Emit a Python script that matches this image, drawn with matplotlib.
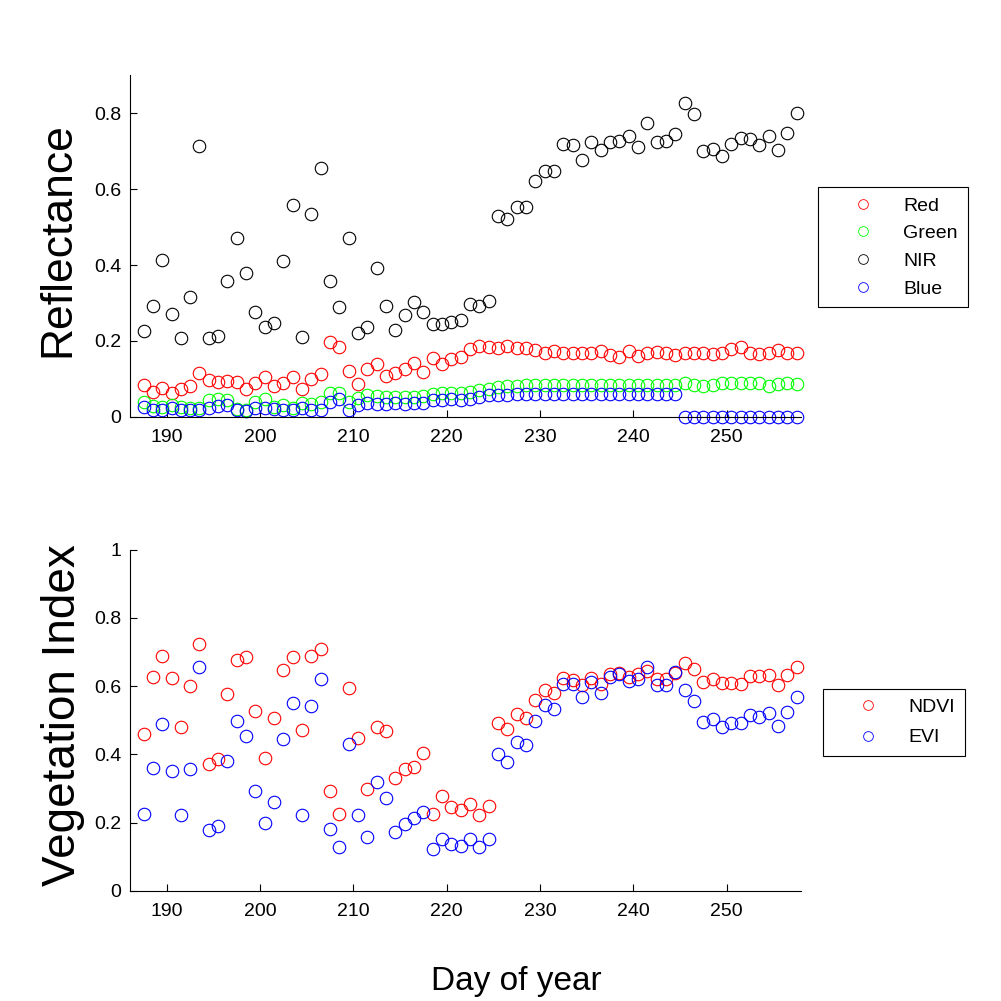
import numpy as np
import matplotlib
matplotlib.use("Agg")
import matplotlib.pyplot as plt

plt.rcParams['font.family'] = ['Liberation Sans', 'DejaVu Sans']

# day of year (half-day centred acquisitions)
days = np.arange(187.5, 258.0, 1.0)

# reflectance bands
red = [0.084, 0.066, 0.075, 0.063, 0.072, 0.082, 0.114, 0.097, 0.092, 0.095,
       0.091, 0.072, 0.088, 0.105, 0.081, 0.090, 0.106, 0.074, 0.099, 0.113,
       0.196, 0.183, 0.120, 0.087, 0.127, 0.139, 0.107, 0.114, 0.125, 0.141,
       0.117, 0.156, 0.138, 0.151, 0.158, 0.178, 0.187, 0.185, 0.182, 0.187,
       0.180, 0.180, 0.176, 0.169, 0.172, 0.169, 0.169, 0.169, 0.169, 0.173,
       0.163, 0.158, 0.172, 0.160, 0.169, 0.170, 0.169, 0.162, 0.167, 0.169,
       0.167, 0.166, 0.169, 0.178, 0.183, 0.169, 0.166, 0.167, 0.175, 0.169,
       0.167]
green = [0.040, 0.028, 0.025, 0.030, 0.025, 0.022, 0.022, 0.045, 0.048, 0.045,
         0.020, 0.018, 0.040, 0.048, 0.025, 0.030, 0.022, 0.035, 0.033, 0.038,
         0.063, 0.063, 0.040, 0.050, 0.057, 0.055, 0.053, 0.053, 0.053, 0.053,
         0.055, 0.060, 0.062, 0.062, 0.063, 0.066, 0.070, 0.072, 0.079, 0.080,
         0.080, 0.083, 0.083, 0.083, 0.083, 0.083, 0.083, 0.083, 0.083, 0.083,
         0.083, 0.083, 0.083, 0.083, 0.083, 0.083, 0.083, 0.083, 0.088, 0.083,
         0.080, 0.083, 0.090, 0.090, 0.088, 0.088, 0.090, 0.082, 0.086, 0.088,
         0.087]
nir = [0.226, 0.291, 0.413, 0.270, 0.208, 0.315, 0.714, 0.208, 0.213, 0.358,
       0.471, 0.379, 0.275, 0.237, 0.247, 0.410, 0.559, 0.210, 0.535, 0.655,
       0.358, 0.289, 0.471, 0.220, 0.236, 0.392, 0.291, 0.229, 0.267, 0.302,
       0.275, 0.245, 0.245, 0.249, 0.255, 0.297, 0.292, 0.305, 0.528, 0.521,
       0.554, 0.554, 0.622, 0.648, 0.648, 0.719, 0.716, 0.677, 0.724, 0.704,
       0.724, 0.727, 0.739, 0.711, 0.774, 0.725, 0.727, 0.745, 0.827, 0.798,
       0.700, 0.707, 0.688, 0.719, 0.735, 0.732, 0.716, 0.739, 0.703, 0.748,
       0.800]
blue = [0.026, 0.018, 0.018, 0.024, 0.019, 0.018, 0.018, 0.024, 0.027, 0.031,
        0.018, 0.014, 0.022, 0.024, 0.020, 0.018, 0.018, 0.022, 0.019, 0.019,
        0.040, 0.047, 0.018, 0.031, 0.037, 0.033, 0.034, 0.037, 0.034, 0.037,
        0.035, 0.045, 0.045, 0.047, 0.045, 0.048, 0.053, 0.057, 0.058, 0.058,
        0.059, 0.059, 0.060, 0.060, 0.060, 0.060, 0.060, 0.060, 0.060, 0.060,
        0.060, 0.060, 0.060, 0.060, 0.060, 0.060, 0.060, 0.061, 0.0, 0.0,
        0.0, 0.0, 0.0, 0.0, 0.0, 0.0, 0.0, 0.0, 0.0, 0.0,
        0.0]

# vegetation indices
ndvi = [0.459, 0.626, 0.688, 0.623, 0.480, 0.600, 0.723, 0.371, 0.386, 0.577,
        0.676, 0.685, 0.526, 0.391, 0.506, 0.647, 0.685, 0.471, 0.688, 0.708,
        0.292, 0.225, 0.596, 0.447, 0.300, 0.480, 0.468, 0.330, 0.356, 0.362,
        0.404, 0.227, 0.278, 0.246, 0.236, 0.254, 0.222, 0.249, 0.493, 0.474,
        0.518, 0.508, 0.559, 0.588, 0.580, 0.624, 0.619, 0.603, 0.624, 0.605,
        0.635, 0.639, 0.627, 0.635, 0.645, 0.622, 0.622, 0.640, 0.668, 0.649,
        0.613, 0.622, 0.608, 0.610, 0.606, 0.629, 0.629, 0.632, 0.603, 0.632,
        0.656]
evi = [0.227, 0.360, 0.488, 0.351, 0.222, 0.357, 0.655, 0.179, 0.190, 0.380,
       0.497, 0.453, 0.292, 0.198, 0.260, 0.444, 0.550, 0.222, 0.543, 0.620,
       0.181, 0.128, 0.432, 0.224, 0.159, 0.318, 0.272, 0.173, 0.196, 0.215,
       0.231, 0.122, 0.152, 0.137, 0.133, 0.151, 0.130, 0.151, 0.400, 0.378,
       0.436, 0.429, 0.497, 0.544, 0.532, 0.606, 0.606, 0.567, 0.613, 0.579,
       0.627, 0.635, 0.615, 0.622, 0.655, 0.603, 0.603, 0.642, 0.590, 0.557,
       0.494, 0.505, 0.481, 0.491, 0.493, 0.515, 0.510, 0.520, 0.483, 0.523,
       0.569]

xticks = [190, 200, 210, 220, 230, 240, 250]

fig = plt.figure(figsize=(10.01, 10.01), dpi=100)
ax1 = fig.add_axes([0.1294, 0.5837, 0.671, 0.341])
ax2 = fig.add_axes([0.1294, 0.1099, 0.671, 0.341])

mk = dict(linestyle='none', marker='o', markerfacecolor='none',
          markersize=9, markeredgewidth=0.8)

ax1.plot(days, red, color='#ff0000', label='Red', **mk)
ax1.plot(days, green, color='#00ff00', label='Green', **mk)
ax1.plot(days, nir, color='black', label='NIR', **mk)
ax1.plot(days, blue, color='#0000ff', label='Blue', **mk)

ax2.plot(days, ndvi, color='#ff0000', label='NDVI', **mk)
ax2.plot(days, evi, color='#0000ff', label='EVI', **mk)

for ax, ylim, yt in [(ax1, (0, 0.9), [0, 0.2, 0.4, 0.6, 0.8]),
                     (ax2, (0, 1), [0, 0.2, 0.4, 0.6, 0.8, 1])]:
    ax.set_xlim(186, 258)
    ax.set_ylim(*ylim)
    ax.set_xticks(xticks)
    ax.set_yticks(yt)
    ax.set_yticklabels([f'{v:g}' for v in yt])
    ax.spines['top'].set_visible(False)
    ax.spines['right'].set_visible(False)
    ax.spines['left'].set_linewidth(0.8)
    ax.spines['bottom'].set_linewidth(0.8)
    ax.tick_params(direction='in', length=5, width=0.8, labelsize=14)
    ax.tick_params(axis='x', pad=9)
    ax.tick_params(axis='y', pad=6)
    for m in ax.lines:
        m.set_clip_on(False)

ax1.set_ylabel('Reflectance', fontsize=32)
ax1.yaxis.set_label_coords(-0.076, 0.52)
ax2.set_ylabel('Vegetation Index', fontsize=33)
ax2.yaxis.set_label_coords(-0.066, 0.515)
fig.text(0.5155, 0.019, 'Day of year', fontsize=24, ha='center', va='center')

leg_kw = dict(loc='upper left', bbox_transform=fig.transFigure, fontsize=14,
              borderpad=0.5, handlelength=3.6, handletextpad=0.3,
              borderaxespad=0, fancybox=False, framealpha=1, edgecolor='black')
l1 = ax1.legend(bbox_to_anchor=(0.817, 0.813), labelspacing=0.52, **leg_kw)
l2 = ax2.legend(bbox_to_anchor=(0.822, 0.312), labelspacing=0.66, **leg_kw)
for lg in (l1, l2):
    lg.get_frame().set_linewidth(0.8)
    for h in lg.legend_handles:
        h.set_markersize(7)
        h.set_markeredgewidth(0.6)

fig.savefig('out.png', dpi=100)
